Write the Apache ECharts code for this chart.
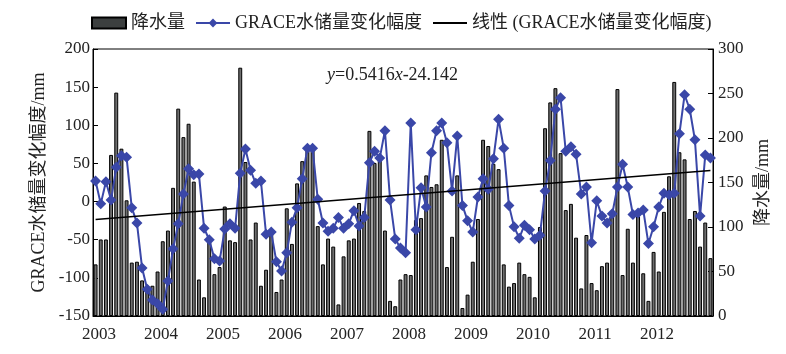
<!DOCTYPE html>
<html>
<head>
<meta charset="utf-8">
<script src="https://cdn.jsdelivr.net/npm/echarts@6/dist/echarts.min.js"></script>
<style>
  html, body { margin: 0; padding: 0; background: #fff; }
  #chart { width: 786px; height: 354px; }
</style>
</head>
<body>
<div id="chart"></div>
<script>
const years = ['2003', '2004', '2005', '2006', '2007', '2008', '2009', '2010', '2011', '2012']

// monthly precipitation, mm (right axis)
const precip = [
  58, 86, 86, 181, 251, 188, 130, 60, 61, 40, 34, 34,
  50, 84, 96, 144, 233, 201, 216, 151, 41, 21, 83, 47,
  55, 123, 85, 83, 279, 173, 86, 105, 34, 52, 95, 27,
  41, 121, 81, 149, 174, 190, 186, 101, 58, 87, 78, 13,
  67, 85, 87, 127, 118, 208, 172, 179, 96, 17, 11, 41,
  47, 46, 108, 110, 158, 145, 148, 198, 55, 89, 158, 9,
  24, 61, 109, 198, 191, 171, 165, 58, 33, 37, 60, 47,
  44, 21, 100, 211, 240, 256, 183, 119, 126, 88, 31, 91,
  37, 29, 56, 60, 116, 255, 46, 98, 60, 112, 48, 17,
  72, 50, 117, 157, 263, 184, 176, 109, 118, 78, 105, 65
]

// GRACE water storage change, mm (left axis)
const grace = [
  27, -3, 26, 2, 45, 60, 58, -8, -28, -87, -115, -129,
  -134, -141, -104, -62, -29, 10, 43, 35, 36, -35, -50, -75,
  -78, -36, -29, -35, 37, 69, 41, 24, 27, -43, -40, -79,
  -91, -67, -27, -8, 30, 70, 70, 3, -28, -39, -35, -21,
  -35, -29, -12, -32, -21, 51, 66, 57, 93, 2, -49, -61,
  -67, 103, -37, 18, -7, 64, 93, 103, 77, 14, 86, -5,
  -25, -40, 6, 30, 16, 56, 108, 70, -5, -33, -48, -31,
  -37, -49, -44, 14, 54, 121, 136, 66, 72, 62, 10, 19,
  -54, 1, -19, -28, -16, 19, 49, 19, -17, -15, -11, -55,
  -33, -7, 11, 9, 11, 89, 140, 121, 81, -19, 61, 57
]

// linear trend end points (first and last month)
const trend = [-23.6, 40.8]

const months = []
years.forEach(y => {
  for (let m = 1; m <= 12; m++) months.push(y + '-' + m)
})

const serif = "'Liberation Serif', 'Times New Roman', 'Noto Sans CJK SC', serif"
const textColor = '#222'
const blue = '#3a47a8'

const chart = echarts.init(document.getElementById('chart'))

const option = {
  animation: false,
  backgroundColor: '#fff',
  textStyle: { fontFamily: serif },
  title: {
    text: '{i|y}=0.5416{i|x}-24.142',
    left: 322,
    top: 61,
    textStyle: {
      fontFamily: serif,
      fontSize: 18,
      fontWeight: 'normal',
      color: textColor,
      rich: {
        i: { fontStyle: 'italic', fontFamily: serif, fontSize: 18, color: textColor }
      }
    }
  },
  legend: {
    top: 9,
    left: 86,
    itemWidth: 34,
    itemHeight: 11,
    itemGap: 10,
    textStyle: { fontFamily: serif, fontSize: 18, color: textColor },
    data: [
      { name: '降水量', icon: 'rect', itemStyle: { color: '#3c3f3f' } },
      { name: 'GRACE水储量变化幅度' },
      { name: '线性 (GRACE水储量变化幅度)', itemStyle: { opacity: 0 }, lineStyle: { width: 2 } }
    ]
  },
  grid: {
    left: 93,
    right: 73,
    top: 49,
    bottom: 38,
    show: true,
    borderColor: '#000',
    borderWidth: 1,
    backgroundColor: 'transparent'
  },
  xAxis: {
    type: 'category',
    data: months,
    boundaryGap: true,
    axisLine: { onZero: false, lineStyle: { color: '#000' } },
    axisTick: { show: false },
    axisLabel: {
      interval: (idx) => idx % 12 === 0,
      formatter: (v) => v.split('-')[0],
      fontFamily: serif,
      fontSize: 17,
      color: textColor,
      margin: 10,
      padding: [0, 0, 0, 7]
    }
  },
  yAxis: [
    {
      type: 'value',
      min: -150,
      max: 200,
      interval: 50,
      name: 'GRACE水储量变化幅度/mm',
      nameLocation: 'middle',
      nameGap: 32,
      nameRotate: 90,
      nameTextStyle: { fontFamily: serif, fontSize: 18, color: textColor },
      axisLine: { show: true, onZero: false, lineStyle: { color: '#000' } },
      axisTick: { show: true, inside: true, length: 5, lineStyle: { color: '#000' } },
      axisLabel: { fontFamily: serif, fontSize: 17, color: textColor, margin: 3 },
      splitLine: { show: false }
    },
    {
      type: 'value',
      min: 0,
      max: 300,
      interval: 50,
      name: '降水量/mm',
      nameLocation: 'middle',
      nameGap: 41,
      nameRotate: 90,
      nameTextStyle: { fontFamily: serif, fontSize: 18, color: textColor },
      axisLine: { show: true, onZero: false, lineStyle: { color: '#000' } },
      axisTick: { show: true, inside: true, length: 5, lineStyle: { color: '#000' } },
      axisLabel: { fontFamily: serif, fontSize: 17, color: textColor, margin: 5 },
      splitLine: { show: false }
    }
  ],
  series: [
    {
      name: '降水量',
      type: 'bar',
      yAxisIndex: 1,
      data: precip,
      barWidth: '76%',
      itemStyle: { color: '#6e6e6e', borderColor: '#000', borderWidth: 1 },
      z: 1
    },
    {
      name: 'GRACE水储量变化幅度',
      type: 'line',
      yAxisIndex: 0,
      data: grace,
      symbol: 'diamond',
      symbolSize: 11,
      showAllSymbol: true,
      lineStyle: { color: blue, width: 2 },
      itemStyle: { color: blue },
      z: 3
    },
    {
      name: '线性 (GRACE水储量变化幅度)',
      type: 'line',
      yAxisIndex: 0,
      data: [[0, trend[0]], [months.length - 1, trend[1]]],
      symbol: 'none',
      lineStyle: { color: '#000', width: 1.5 },
      itemStyle: { color: '#000' },
      z: 4
    }
  ]
}

chart.setOption(option)
</script>
</body>
</html>
